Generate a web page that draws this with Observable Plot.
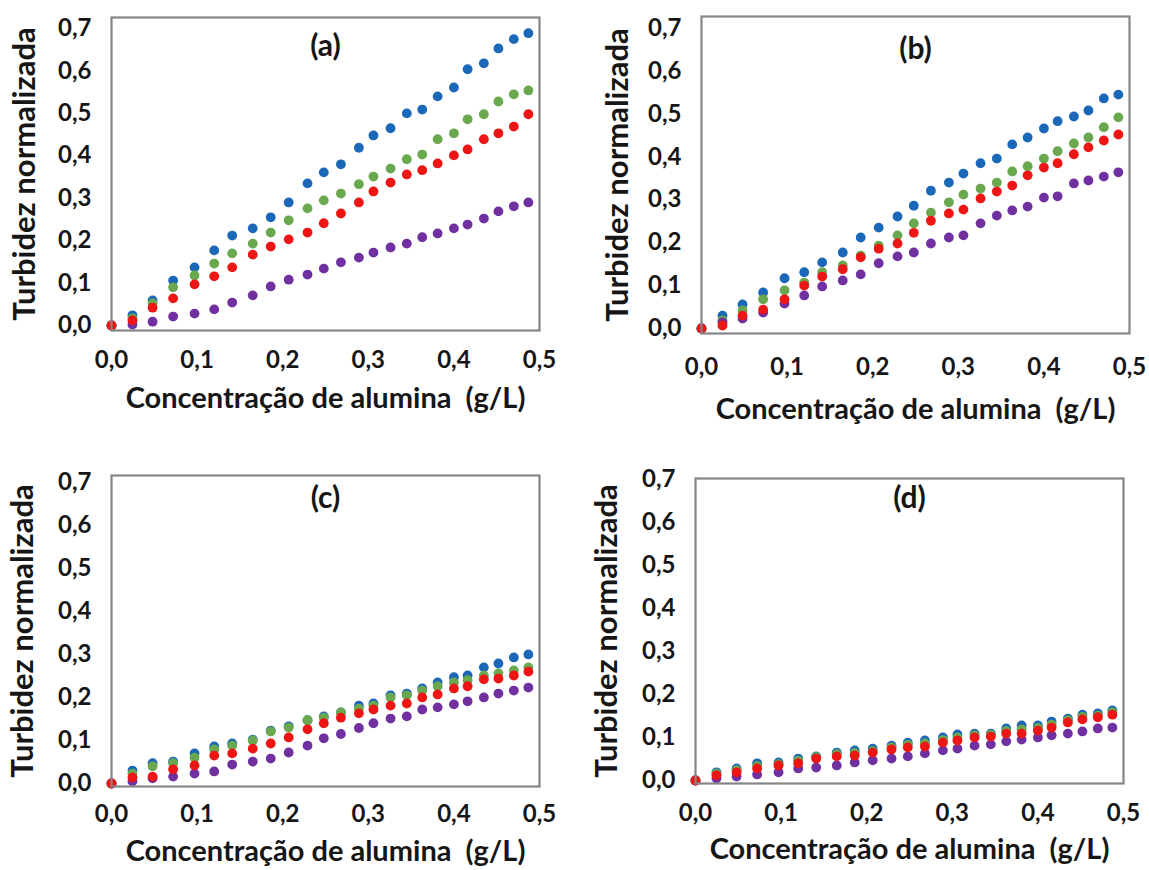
<!DOCTYPE html>
<html>
<head>
<meta charset="utf-8">
<script src="https://cdn.jsdelivr.net/npm/d3@7"></script>
<script src="https://cdn.jsdelivr.net/npm/@observablehq/plot@0.6"></script>
<style>
  html, body { margin: 0; padding: 0; background: #fff; }
  #page { position: relative; width: 1149px; height: 870px; overflow: hidden; }
  #page svg { position: absolute; overflow: visible; }
</style>
</head>
<body>
<div id="page"></div>
<script>
// Concentração de alumina (g/L), shared by all panels
const xConc = [0, 0.0245, 0.048, 0.072, 0.097, 0.120, 0.141, 0.165, 0.186, 0.207, 0.229, 0.248, 0.268, 0.289, 0.306, 0.326, 0.345, 0.363, 0.381, 0.400, 0.416, 0.435, 0.452, 0.470, 0.487];

// Panel (a)
const aBlue   = [0, 0.024, 0.059, 0.106, 0.137, 0.177, 0.212, 0.229, 0.255, 0.290, 0.335, 0.361, 0.380, 0.419, 0.448, 0.465, 0.500, 0.509, 0.540, 0.561, 0.604, 0.618, 0.653, 0.675, 0.689];
const aGreen  = [0, 0.017, 0.052, 0.090, 0.118, 0.146, 0.170, 0.193, 0.219, 0.248, 0.276, 0.295, 0.311, 0.333, 0.351, 0.370, 0.392, 0.403, 0.439, 0.453, 0.486, 0.498, 0.528, 0.545, 0.554];
const aRed    = [0, 0.012, 0.042, 0.064, 0.097, 0.116, 0.137, 0.167, 0.186, 0.203, 0.219, 0.241, 0.264, 0.290, 0.316, 0.337, 0.356, 0.366, 0.382, 0.401, 0.415, 0.439, 0.453, 0.469, 0.498];
const aPurple = [0, 0.002, 0.009, 0.021, 0.028, 0.038, 0.054, 0.071, 0.092, 0.108, 0.120, 0.134, 0.149, 0.160, 0.172, 0.184, 0.193, 0.208, 0.217, 0.229, 0.238, 0.252, 0.269, 0.281, 0.290];

// Panel (b)
const bBlue   = [0, 0.030, 0.056, 0.084, 0.117, 0.131, 0.154, 0.177, 0.212, 0.235, 0.261, 0.286, 0.321, 0.340, 0.361, 0.385, 0.396, 0.429, 0.445, 0.466, 0.483, 0.494, 0.508, 0.536, 0.545];
const bGreen  = [0, 0.019, 0.042, 0.068, 0.089, 0.107, 0.131, 0.147, 0.170, 0.193, 0.217, 0.245, 0.270, 0.294, 0.312, 0.326, 0.340, 0.366, 0.378, 0.396, 0.413, 0.431, 0.445, 0.469, 0.492];
const bRed    = [0, 0.007, 0.030, 0.044, 0.068, 0.100, 0.121, 0.138, 0.166, 0.186, 0.198, 0.223, 0.251, 0.268, 0.277, 0.303, 0.319, 0.333, 0.357, 0.375, 0.385, 0.406, 0.422, 0.438, 0.452];
const bPurple = [0, 0.014, 0.023, 0.037, 0.058, 0.077, 0.098, 0.112, 0.126, 0.152, 0.168, 0.177, 0.198, 0.212, 0.217, 0.245, 0.263, 0.275, 0.284, 0.305, 0.308, 0.338, 0.345, 0.354, 0.364];

// Panel (c)
const cBlue   = [0, 0.030, 0.047, 0.051, 0.070, 0.086, 0.093, 0.102, 0.123, 0.133, 0.147, 0.156, 0.165, 0.181, 0.186, 0.205, 0.209, 0.221, 0.235, 0.247, 0.251, 0.270, 0.279, 0.293, 0.300];
const cGreen  = [0, 0.023, 0.040, 0.047, 0.060, 0.079, 0.088, 0.100, 0.121, 0.130, 0.147, 0.153, 0.165, 0.174, 0.181, 0.200, 0.205, 0.216, 0.226, 0.235, 0.240, 0.251, 0.256, 0.263, 0.270];
const cRed    = [0, 0.014, 0.016, 0.033, 0.042, 0.065, 0.070, 0.081, 0.093, 0.107, 0.126, 0.140, 0.153, 0.163, 0.172, 0.181, 0.186, 0.200, 0.207, 0.221, 0.226, 0.242, 0.244, 0.251, 0.260];
const cPurple = [0, 0.005, 0.012, 0.016, 0.023, 0.028, 0.044, 0.051, 0.058, 0.072, 0.088, 0.105, 0.115, 0.129, 0.140, 0.151, 0.156, 0.172, 0.177, 0.184, 0.191, 0.200, 0.209, 0.216, 0.223];

// Panel (d)
const dBlue   = [0, 0.019, 0.028, 0.040, 0.042, 0.051, 0.056, 0.065, 0.070, 0.074, 0.081, 0.088, 0.093, 0.100, 0.107, 0.109, 0.109, 0.121, 0.128, 0.128, 0.137, 0.144, 0.153, 0.156, 0.163];
const dGreen  = [0, 0.016, 0.024, 0.034, 0.038, 0.046, 0.054, 0.061, 0.064, 0.068, 0.077, 0.083, 0.086, 0.094, 0.100, 0.105, 0.106, 0.115, 0.119, 0.122, 0.130, 0.140, 0.148, 0.151, 0.158];
const dRed    = [0, 0.012, 0.019, 0.028, 0.035, 0.040, 0.051, 0.056, 0.058, 0.065, 0.072, 0.077, 0.079, 0.088, 0.093, 0.100, 0.102, 0.109, 0.109, 0.116, 0.123, 0.135, 0.142, 0.147, 0.153];
const dPurple = [0, 0.005, 0.009, 0.014, 0.019, 0.028, 0.030, 0.035, 0.042, 0.047, 0.051, 0.056, 0.063, 0.070, 0.074, 0.081, 0.084, 0.091, 0.095, 0.100, 0.105, 0.109, 0.114, 0.121, 0.123];

const xTicks = [0, 0.1, 0.2, 0.3, 0.4, 0.5];
const yTicks = [0, 0.1, 0.2, 0.3, 0.4, 0.5, 0.6, 0.7];
const panelLabels = ["(a)", "(b)", "(c)", "(d)"];
const yTitle = "Turbidez normalizada";
const xTitle = "Concentração de alumina\u00a0 (g/L)";

const seriesColors = ["#1c68b8", "#6aa84f", "#7030a0", "#ee1515"]; // blue, green, purple, red (draw order)

const panels = [
  {label: panelLabels[0], series: [aBlue, aGreen, aPurple, aRed], left: 0,   top: 0,   mL: 111, mR: 36, mT: 17, mB: 105, yDomain: [-0.0118, 0.726], titleDy: 29, xPad: 20, xTitleDy: 68, yTitleDx: -86},
  {label: panelLabels[1], series: [bBlue, bGreen, bPurple, bRed], left: 574, top: 0,   mL: 127, mR: 20, mT: 16, mB: 102, yDomain: [-0.0117, 0.727], titleDy: 33, xPad: 24, xTitleDy: 76, yTitleDx: -83},
  {label: panelLabels[2], series: [cBlue, cGreen, cPurple, cRed], left: 0,   top: 435, mL: 111, mR: 36, mT: 40, mB: 84,  yDomain: [-0.007, 0.716],  titleDy: 23, xPad: 18, xTitleDy: 65, yTitleDx: -88},
  {label: panelLabels[3], series: [dBlue, dGreen, dPurple, dRed], left: 574, top: 435, mL: 121, mR: 26, mT: 43, mB: 87,  yDomain: [-0.007, 0.702],  titleDy: 20, xPad: 20, xTitleDy: 66, yTitleDx: -88}
];

const fmt = d => d.toFixed(1).replace(".", ",");
const FONT = "Lato, 'Open Sans', sans-serif";
const INK = "#161616";
const page = document.getElementById("page");

for (const p of panels) {
  const dots = p.series.map((vals, i) =>
    Plot.dot(vals, {x: xConc, y: vals, r: 4.9, fill: seriesColors[i], stroke: "none"})
  );
  const chart = Plot.plot({
    width: 575,
    height: 435,
    marginLeft: p.mL, marginRight: p.mR, marginTop: p.mT, marginBottom: p.mB,
    style: {fontFamily: FONT, fontWeight: "bold", fontSize: "24px", color: INK, background: "transparent", overflow: "visible"},
    x: {domain: [0, 0.5]},
    y: {domain: p.yDomain},
    marks: [
      Plot.axisX({ticks: xTicks, tickFormat: fmt, tickSize: 0, tickPadding: p.xPad, label: null,
                  fontSize: 24, fontWeight: "bold", fontFamily: FONT, fill: INK}),
      Plot.axisY({ticks: yTicks, tickFormat: fmt, tickSize: 0, tickPadding: 20, label: null,
                  fontSize: 24, fontWeight: "bold", fontFamily: FONT, fill: INK}),
      ...dots,
      Plot.frame({stroke: "#858585", strokeWidth: 2.2}),
      Plot.text([p.label], {frameAnchor: "top", lineAnchor: "middle", textAnchor: "middle", dy: p.titleDy,
                            fontSize: 30, fontWeight: "bold", fontFamily: FONT, fill: INK}),
      Plot.text([yTitle], {frameAnchor: "left", lineAnchor: "middle", textAnchor: "middle", rotate: -90, dx: p.yTitleDx,
                           fontSize: 31, fontWeight: "bold", fontFamily: FONT, fill: INK}),
      Plot.text([xTitle], {frameAnchor: "bottom", lineAnchor: "middle", textAnchor: "middle", dy: p.xTitleDy,
                           fontSize: 29, fontWeight: "bold", fontFamily: FONT, fill: INK})
    ]
  });
  chart.style.left = p.left + "px";
  chart.style.top = p.top + "px";
  page.appendChild(chart);
}
</script>
</body>
</html>
